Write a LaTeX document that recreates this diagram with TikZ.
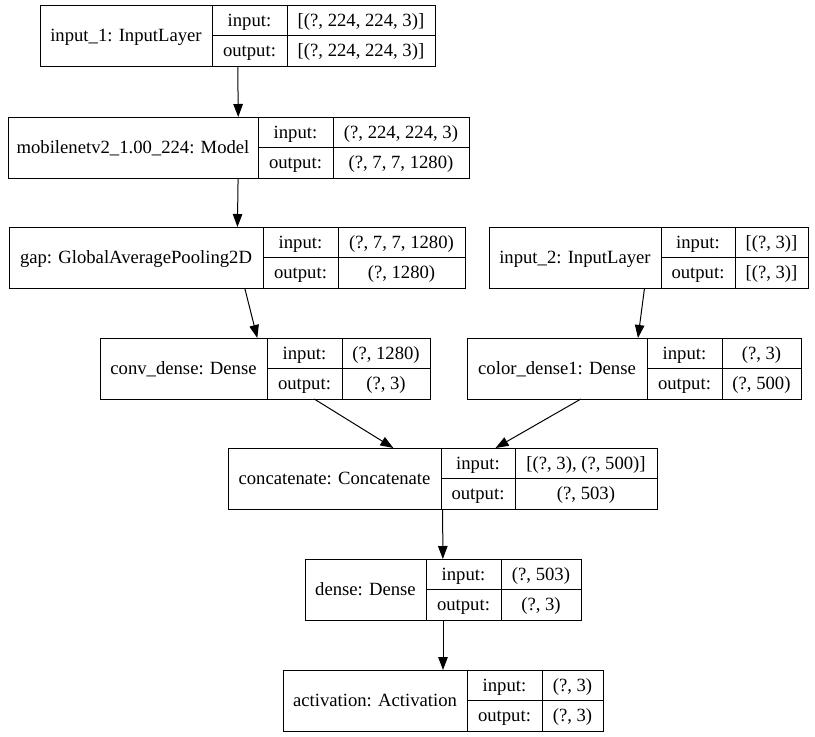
\documentclass[tikz,border=0pt]{standalone}
\usepackage{fontspec}
\setmainfont{Liberation Serif}
\newfontfamily\recordfont{Liberation Serif}
\usetikzlibrary{arrows.meta}

\tikzset{
  record/.style={draw, line width=1pt, rectangle, inner sep=0pt, outer sep=0pt},
  divider/.style={line width=1pt},
  celltext/.style={inner sep=0pt, text height=15pt, text depth=3pt,
    font=\recordfont\fontsize{18.67}{22}\selectfont},
  edge/.style={line width=1pt, -{Triangle[length=13pt,width=9.5pt]}},
}

% \layerbox{name}{left}{split1}{split2}{right}{top}{label}{input shape}{output shape}
\newcommand{\layerbox}[9]{%
  \node[record, anchor=north west, minimum width={#5-#2}, minimum height=61]
    (#1) at (#2,#6) {};
  \draw[divider] (#3,#6) -- (#3,{#6+61});
  \draw[divider] (#4,#6) -- (#4,{#6+61});
  \draw[divider] (#3,{#6+30.5}) -- (#5,{#6+30.5});
  \node[celltext] (#1-lbl) at ({(#2+#3)/2},{#6+30.5}) {#7};
  \node[celltext] (#1-ik) at ({(#3+#4)/2},{#6+15.25}) {input:};
  \node[celltext] (#1-ok) at ({(#3+#4)/2},{#6+45.75}) {output:};
  \node[celltext] (#1-iv) at ({(#4+#5)/2},{#6+15.25}) {#8};
  \node[celltext] (#1-ov) at ({(#4+#5)/2},{#6+45.75}) {#9};
}

\begin{document}
\begin{tikzpicture}[x=1pt,y=-1pt]
  \fill[white] (0,0) rectangle (815,737);
  \useasboundingbox (0,0) rectangle (815,737);

  \layerbox{inone}{40}{212}{287}{435}{5}{input\_1: InputLayer}{[(?, 224, 224, 3)]}{[(?, 224, 224, 3)]}
  \layerbox{mobile}{8}{258}{333}{469}{117}{mobilenetv2\_1.00\_224: Model}{(?, 224, 224, 3)}{(?, 7, 7, 1280)}
  \layerbox{gap}{9}{263}{338}{465}{227}{gap: GlobalAveragePooling2D}{(?, 7, 7, 1280)}{(?, 1280)}
  \layerbox{intwo}{489}{661}{735}{808}{227}{input\_2: InputLayer}{[(?, 3)]}{[(?, 3)]}
  \layerbox{conv}{100}{267}{342}{430}{338}{conv\_dense: Dense}{(?, 1280)}{(?, 3)}
  \layerbox{color}{467}{647}{722}{801}{338}{color\_dense1: Dense}{(?, 3)}{(?, 500)}
  \layerbox{concat}{228}{441}{515}{657}{448}{concatenate: Concatenate}{[(?, 3), (?, 500)]}{(?, 503)}
  \layerbox{dense}{305}{426}{501}{581}{559}{dense: Dense}{(?, 503)}{(?, 3)}
  \layerbox{act}{283}{467}{542}{603}{670}{activation: Activation}{(?, 3)}{(?, 3)}

  \draw[edge] (inone) -- (mobile);
  \draw[edge] (mobile) -- (gap);
  \draw[edge] (gap) -- (conv);
  \draw[edge] (intwo) -- (color);
  \draw[edge] (conv) -- (concat);
  \draw[edge] (color) -- (concat);
  \draw[edge] (concat) -- (dense);
  \draw[edge] (dense) -- (act);
\end{tikzpicture}
\end{document}
